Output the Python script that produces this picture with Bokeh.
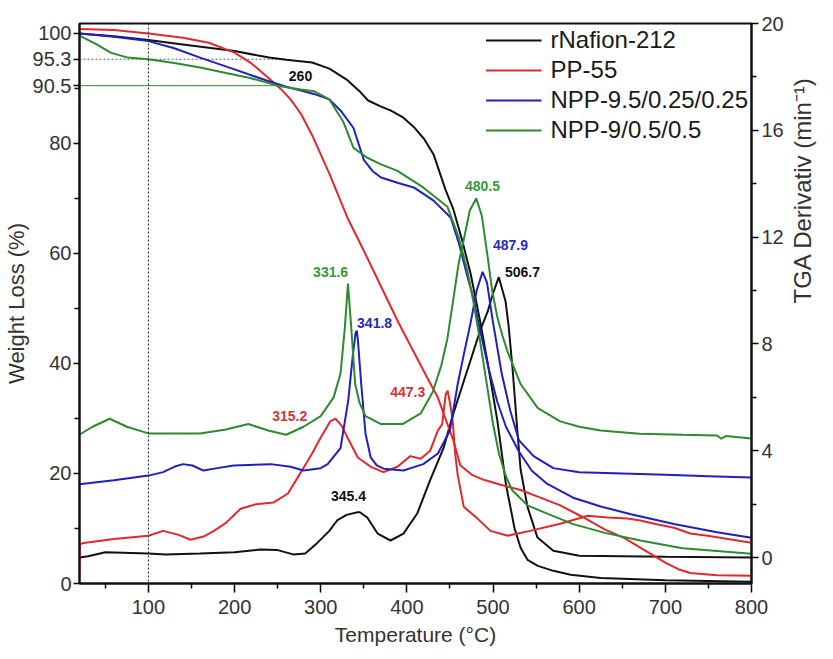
import math
from bokeh.plotting import figure
from bokeh.models import Range1d, LinearAxis, Label, Legend, LegendItem, Span, FixedTicker
from bokeh.embed import file_html
from bokeh.resources import INLINE

# ---------------- data ----------------
series_names = ["rNafion-212", "PP-55", "NPP-9.5/0.25/0.25", "NPP-9/0.5/0.5"]
series_colors = ["#111111", "#e2282b", "#1f1fc4", "#2e8a2e"]

# weight loss curves (left axis, %)
nafion_w_T = [20, 60, 100, 140, 170, 200, 240, 260, 290, 310, 331, 345, 355, 370, 381, 395, 408, 420, 431, 445,
              454, 464, 474, 485, 495, 505, 515, 525, 532, 540, 552, 570, 590, 625, 700, 800]
nafion_w = [100, 99.5, 98.8, 98.0, 97.4, 96.8, 95.6, 95.2, 94.7, 93.6, 91.5, 89.5, 87.8, 86.7, 86.0, 84.8, 83.0,
            80.8, 78.0, 71.5, 68.0, 62.5, 56.3, 47.7, 39.0, 29.6, 18.0, 10.0, 6.5, 4.3, 3.2, 2.3, 1.6, 1.0, 0.6, 0.3]

pp_w_T = [20, 60, 100, 140, 170, 200, 220, 240, 253, 265, 277, 290, 310, 331, 350, 370, 390, 410, 425, 436, 447,
          454, 462, 475, 490, 510, 532, 555, 578, 605, 630, 652, 668, 683, 700, 715, 729, 760, 800]
pp_w = [100.8, 100.6, 100.0, 99.2, 98.3, 96.5, 94.5, 91.8, 90.0, 88.0, 85.4, 81.5, 74.5, 66.5, 60.5, 54.0, 47.5,
        41.5, 37.0, 33.8, 29.0, 26.0, 21.5, 19.8, 18.8, 17.9, 17.0, 15.6, 14.2, 12.0, 9.8, 8.3, 6.8, 5.4, 3.8, 2.6,
        1.9, 1.5, 1.4]

npp95_w_T = [20, 60, 100, 130, 160, 199, 238, 260, 277, 292, 310, 323, 338, 350, 360, 370, 390, 408, 431, 451,
             461, 470, 477, 485, 495, 505, 515, 530, 545, 563, 593, 625, 660, 710, 760, 800]
npp95_w = [100, 99.4, 98.6, 97.3, 95.6, 93.5, 91.4, 90.3, 89.6, 89.0, 88.0, 86.0, 82.8, 77.0, 75.0, 73.8, 72.8,
           72.0, 69.6, 66.5, 61.5, 56.0, 52.0, 46.0, 39.0, 33.0, 28.5, 24.0, 20.5, 18.1, 15.6, 14.0, 12.6, 10.8,
           9.3, 8.3]

npp9_w_T = [20, 40, 56, 76, 100, 130, 160, 190, 218, 250, 277, 292, 310, 326, 338, 354, 370, 389, 419, 447, 460,
            470, 477, 485, 493, 500, 507, 515, 522, 540, 563, 593, 630, 671, 720, 800]
npp9_w = [99.6, 98.0, 96.5, 95.6, 95.3, 94.6, 93.8, 92.8, 91.9, 90.5, 89.8, 89.5, 88.0, 84.0, 79.2, 77.4, 76.2,
          75.0, 72.0, 68.5, 63.0, 57.0, 51.4, 44.0, 36.0, 29.0, 23.5, 19.5, 17.0, 14.2, 12.7, 10.8, 9.2, 7.8, 6.4,
          5.4]

# TGA derivative curves (right axis, min^-1)
nafion_d_T = [20, 30, 50, 100, 120, 160, 200, 230, 250, 268, 282, 296, 310, 319, 330, 342.7, 345.4, 354, 366,
              381, 396, 412, 427, 442.5, 454, 465, 474, 485, 493.6, 500, 506.7, 511, 514.5, 518, 522.6, 528.6, 532,
              540, 551.6, 570, 600, 700, 800]
nafion_d = [0.0, 0.05, 0.2, 0.15, 0.12, 0.15, 0.2, 0.3, 0.28, 0.12, 0.15, 0.55, 1.0, 1.39, 1.6, 1.7, 1.7, 1.5,
            0.9, 0.64, 0.9, 1.65, 2.9, 4.1, 5.4, 6.5, 7.4, 8.5, 9.2, 9.9, 10.5, 10.0, 9.6, 8.7, 7.1, 4.6, 3.3, 1.9,
            0.75, 0.26, 0.07, 0.03, 0.0]

pp_d_T = [20, 20.5, 25, 60, 100, 117, 135, 149, 165, 176, 190, 207, 225, 245, 262, 277, 290, 300, 311, 317, 324,
          331, 343, 358, 373, 389, 404, 416, 427, 436, 441, 445, 447.3, 450, 453, 456, 459, 466, 482, 497, 517,
          543, 578, 610, 633, 656, 671, 690, 710, 729, 749, 800]
pp_d = [-0.75, 0.5, 0.55, 0.7, 0.82, 1.0, 0.85, 0.67, 0.8, 1.0, 1.3, 1.83, 2.0, 2.06, 2.4, 3.2, 3.9, 4.5, 5.1,
        5.2, 4.95, 4.5, 3.75, 3.4, 3.2, 3.4, 3.8, 3.7, 4.0, 4.76, 5.0, 6.1, 6.25, 5.8, 5.2, 3.9, 3.1, 1.9, 1.46,
        1.0, 0.82, 1.0, 1.27, 1.57, 1.5, 1.46, 1.39, 1.25, 1.12, 0.9, 0.82, 0.56]

npp95_d_T = [20, 60, 100, 117, 130, 140, 151, 164, 180, 199, 242, 265, 280, 300, 308, 323, 332, 337, 340.4,
             341.8, 343, 347, 352, 358, 365, 373, 396, 419, 436, 450, 459, 466, 474, 481, 487.9, 493, 499.5, 510,
             520, 530, 547, 570, 600, 650, 700, 750, 800]
npp95_d = [2.75, 2.9, 3.07, 3.2, 3.4, 3.5, 3.45, 3.26, 3.35, 3.45, 3.5, 3.4, 3.26, 3.35, 3.5, 4.1, 5.9, 7.5, 8.4,
           8.5, 8.2, 6.5, 4.64, 3.75, 3.45, 3.33, 3.26, 3.5, 3.9, 4.76, 6.5, 7.6, 8.8, 10.0, 10.7, 10.3, 8.9, 6.9,
           5.5, 4.4, 3.8, 3.35, 3.2, 3.15, 3.1, 3.05, 3.0]

npp9_d_T = [20, 35, 55, 75, 100, 160, 190, 216, 240, 260, 280, 300, 315, 323, 328, 331.6, 335, 340, 345, 352, 370,
            395, 416, 430, 440, 447, 454, 460, 466, 473, 480.5, 487, 494, 499, 505, 511, 517, 532, 552, 578, 600,
            625, 670, 720, 760, 765, 770, 800]
npp9_d = [4.6, 4.9, 5.2, 4.9, 4.65, 4.65, 4.8, 5.0, 4.75, 4.6, 4.9, 5.3, 6.0, 6.9, 8.6, 10.26, 8.8, 6.5, 5.8, 5.3,
          5.0, 5.0, 5.4, 6.2, 7.2, 8.2, 9.7, 11.0, 11.9, 13.0, 13.45, 12.8, 11.2, 10.0, 9.0, 8.3, 7.7, 6.5, 5.6,
          5.1, 4.9, 4.76, 4.64, 4.6, 4.57, 4.45, 4.55, 4.46]

# peak annotations (text, T, value, colour index)
peak_texts = ["331.6", "341.8", "315.2", "447.3", "480.5", "487.9", "506.7", "345.4"]
peak_T = [311.5, 362.5, 264.0, 401.0, 487.8, 520.3, 534.2, 332.2]
peak_d = [10.7, 8.8, 5.3, 6.2, 13.93, 11.69, 10.7, 2.32]
peak_color_idx = [3, 2, 1, 1, 3, 2, 0, 0]

onset_text = "260"
onset_T = 276.5
onset_w = 92.3

# reference lines
ref_values = [95.3, 90.5]
ref_end_T = [260, 250]
ref_colors = ["#556070", "#2e8a2e"]
marker_T = 100

x_ticks = [100, 200, 300, 400, 500, 600, 700, 800]
w_ticks = [0, 20, 40, 60, 80, 100]
d_ticks = [0, 4, 8, 12, 16, 20]

# ---------------- figure ----------------
FONT = "Liberation Sans"
p = figure(width=833, height=651, output_backend="svg", toolbar_location=None,
           x_range=Range1d(20, 800), y_range=Range1d(0, 101.8),
           min_border_left=79, min_border_right=82, min_border_top=23, min_border_bottom=68)
p.extra_y_ranges = {"d": Range1d(-0.97, 20)}
p.grid.visible = False
p.outline_line_color = "#111111"
p.outline_line_width = 2
p.background_fill_color = "white"

def style_axis(ax, label_size):
    ax.axis_line_width = 2
    ax.axis_line_color = "#111111"
    ax.major_tick_line_width = 1.5
    ax.minor_tick_line_width = 1.5
    ax.major_tick_in = 0
    ax.major_tick_out = 8
    ax.minor_tick_in = 0
    ax.minor_tick_out = 5
    ax.major_label_text_font = FONT
    ax.major_label_text_font_size = "20px"
    ax.major_label_text_color = "#333333"
    ax.axis_label_text_font = FONT
    ax.axis_label_text_font_size = label_size
    ax.axis_label_text_font_style = "normal"
    ax.axis_label_text_color = "#333333"
    ax.major_label_standoff = 4
    ax.axis_label_standoff = 2

xa = p.xaxis[0]
xa.ticker = FixedTicker(ticks=x_ticks, minor_ticks=[t - 50 for t in x_ticks] + [750])
xa.axis_label = "Temperature (\u00b0C)"
style_axis(xa, "21px")
xa.major_tick_out = 9
xa.major_label_standoff = 7
xa.axis_label_standoff = 6

ya = p.yaxis[0]
ya.ticker = FixedTicker(ticks=w_ticks + ref_values, minor_ticks=[t + 10 for t in w_ticks[:-1]])
ya.major_label_overrides = {v: str(v) for v in ref_values}
ya.axis_label = "Weight Loss (%)"
style_axis(ya, "22px")
ya.major_tick_out = 6
ya.major_label_standoff = 2
ya.axis_label_standoff = 1

ra = LinearAxis(y_range_name="d", axis_label="TGA Derivativ (min\u207b\u00b9)")
ra.ticker = FixedTicker(ticks=d_ticks, minor_ticks=[t + 2 for t in d_ticks[:-1]])
style_axis(ra, "24px")
ra.major_tick_out = 7
ra.major_label_standoff = 3
ra.axis_label_standoff = 16
ra.axis_label_orientation = math.pi / 2
p.add_layout(ra, "right")

# reference lines
p.add_layout(Span(location=marker_T, dimension="height", line_color="#222222",
                  line_dash="2 2", line_width=1))
p.line([20, ref_end_T[0]], [ref_values[0], ref_values[0]], line_color=ref_colors[0],
       line_dash="2 2", line_width=1.2)
p.line([20, ref_end_T[1]], [ref_values[1], ref_values[1]], line_color=ref_colors[1], line_width=1)

# curves
w_T = [nafion_w_T, pp_w_T, npp95_w_T, npp9_w_T]
w_V = [nafion_w, pp_w, npp95_w, npp9_w]
d_T = [nafion_d_T, pp_d_T, npp95_d_T, npp9_d_T]
d_V = [nafion_d, pp_d, npp95_d, npp9_d]

items = []
for i in range(4):
    r = p.line(w_T[i], w_V[i], line_color=series_colors[i], line_width=2)
    p.line(d_T[i], d_V[i], line_color=series_colors[i], line_width=2, y_range_name="d")
    items.append(LegendItem(label=series_names[i], renderers=[r]))

label_colors = ["#111111", "#d8333a", "#2a2ac0", "#3a973a"]
for t, x, y, ci in zip(peak_texts, peak_T, peak_d, peak_color_idx):
    p.add_layout(Label(x=x, y=y, y_range_name="d", text=t, text_align="center", text_baseline="middle",
                       text_font=FONT, text_font_size="14px", text_font_style="bold",
                       text_color=label_colors[ci]))
p.add_layout(Label(x=onset_T, y=onset_w, text=onset_text, text_align="center", text_baseline="middle",
                   text_font=FONT, text_font_size="14px", text_font_style="bold", text_color="#111111"))

legend = Legend(items=items, location="top_right")
legend.border_line_alpha = 0
legend.background_fill_alpha = 0
legend.label_text_font = FONT
legend.label_text_font_size = "24px"
legend.label_text_color = "#1a1a1a"
legend.glyph_width = 56
legend.glyph_height = 28
legend.label_height = 28
legend.spacing = 2
legend.padding = 3
legend.margin = 0
legend.label_standoff = 9
p.add_layout(legend)

open("out.html", "w").write(file_html(p, INLINE))
